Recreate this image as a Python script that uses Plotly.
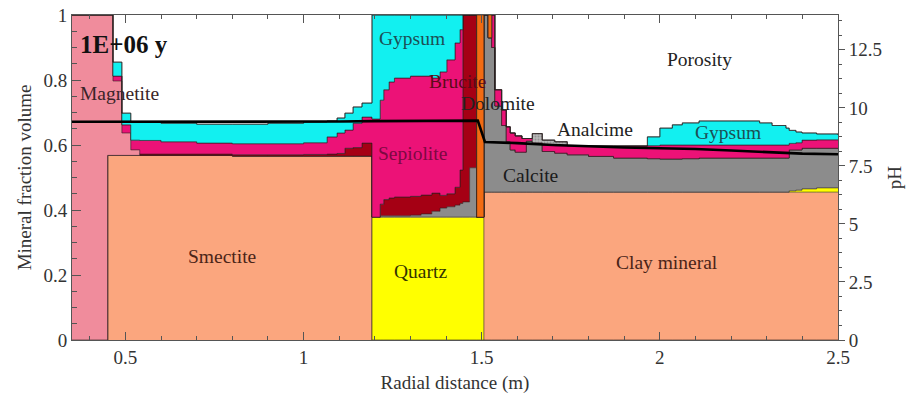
import plotly.graph_objects as go

# Radial positions of the step breakpoints (m); each value holds until the next point
x_grid = [0.35, 0.45, 0.465, 0.49, 0.515, 0.54, 0.60, 0.70, 0.80, 0.90,
          1.00, 1.066, 1.094, 1.116, 1.139, 1.164, 1.192, 1.215, 1.225, 1.24,
          1.255, 1.30, 1.33, 1.36, 1.383, 1.402, 1.425, 1.439, 1.447, 1.466,
          1.486, 1.506, 1.518, 1.528, 1.537, 1.556, 1.569, 1.58, 1.594, 1.613,
          1.625, 1.642, 1.67, 1.705, 1.74, 1.80, 1.87, 1.965, 2.00, 2.035,
          2.063, 2.11, 2.20, 2.28, 2.315, 2.354, 2.363, 2.382, 2.399, 2.44,
          2.50]

# Mineral volume fractions at each breakpoint
smectite = [0, 0.568, 0.568, 0.568, 0.568, 0.568, 0.568, 0.568, 0.566, 0.566,
            0.566, 0.566, 0.566, 0.566, 0.566, 0.566, 0, 0, 0, 0,
            0, 0, 0, 0, 0, 0, 0, 0, 0, 0,
            0, 0, 0, 0, 0, 0, 0, 0, 0, 0,
            0, 0, 0, 0, 0, 0, 0, 0, 0, 0,
            0, 0, 0, 0, 0, 0, 0, 0, 0, 0,
            0]
clay_mineral = [0, 0, 0, 0, 0, 0, 0, 0, 0, 0,
                0, 0, 0, 0, 0, 0, 0, 0, 0, 0,
                0, 0, 0, 0, 0, 0, 0, 0, 0, 0,
                0, 0.455, 0.455, 0.455, 0.455, 0.455, 0.455, 0.455, 0.455, 0.455,
                0.455, 0.455, 0.455, 0.455, 0.455, 0.455, 0.455, 0.455, 0.455, 0.455,
                0.455, 0.455, 0.455, 0.455, 0.455, 0.455, 0.455, 0.455, 0.455, 0.455,
                0.455]
quartz = [0, 0, 0, 0, 0, 0, 0, 0, 0, 0,
          0, 0, 0, 0, 0, 0, 0.378, 0.378, 0.378, 0.378,
          0.378, 0.378, 0.378, 0.378, 0.378, 0.378, 0.378, 0.378, 0.378, 0.378,
          0.378, 0, 0, 0, 0, 0, 0, 0, 0, 0,
          0, 0, 0, 0, 0, 0, 0, 0, 0, 0,
          0, 0, 0, 0, 0, 0, 0.004, 0.006, 0.010, 0.013,
          0.013]
calcite = [0, 0, 0, 0, 0, 0, 0, 0, 0, 0,
           0, 0, 0, 0, 0, 0, 0, 0.004, 0.004, 0.004,
           0.004, 0.006, 0.010, 0.018, 0.028, 0.032, 0.037, 0.042, 0.047, 0.152,
           0, 0.545, 0.475, 0.445, 0.265, 0.205, 0.155, 0.130, 0.123, 0.123,
           0.157, 0.148, 0.125, 0.120, 0.115, 0.110, 0.105, 0.103, 0.102, 0.102,
           0.103, 0.105, 0.105, 0.105, 0.105, 0.105, 0.126, 0.124, 0.125, 0.122,
           0.122]
brucite = [0, 0, 0, 0, 0, 0.004, 0.004, 0.004, 0.004, 0.004,
           0.005, 0.006, 0.008, 0.024, 0.026, 0.040, 0, 0.036, 0.050, 0.055,
           0.058, 0.058, 0.058, 0.056, 0.039, 0.040, 0.055, 0.103, 0.575, 0.470,
           0, 0, 0, 0, 0, 0, 0, 0, 0, 0,
           0, 0, 0, 0, 0, 0, 0, 0, 0, 0,
           0, 0, 0, 0, 0, 0, 0, 0, 0, 0,
           0]
magnetite = [1.0, 0.432, 0.229, 0.069, 0.017, 0, 0, 0, 0, 0,
             0, 0, 0, 0, 0, 0, 0, 0, 0, 0,
             0, 0, 0, 0, 0, 0, 0, 0, 0, 0,
             0, 0, 0, 0, 0, 0, 0, 0, 0, 0,
             0, 0, 0, 0, 0, 0, 0, 0, 0, 0,
             0, 0, 0, 0, 0, 0, 0, 0, 0, 0,
             0]
sepiolite = [0, 0, 0.015, 0.025, 0.030, 0.042, 0.038, 0.034, 0.034, 0.034,
             0.036, 0.053, 0.063, 0.056, 0.075, 0.080, 0.302, 0.320, 0.338, 0.357,
             0.366, 0.370, 0.366, 0.354, 0.380, 0.412, 0.444, 0.432, 0, 0,
             0, 0, 0, 0.100, 0.050, 0.048, 0.046, 0.052, 0.050, 0.042,
             0.008, 0.004, 0.020, 0.023, 0.028, 0.032, 0.037, 0.040, 0.043, 0.043,
             0.042, 0.040, 0.040, 0.040, 0.040, 0.040, 0.020, 0.022, 0.025, 0.026,
             0.026]
analcime = [0, 0, 0, 0, 0, 0, 0, 0, 0, 0,
            0, 0, 0, 0, 0, 0, 0, 0, 0, 0,
            0, 0, 0, 0, 0, 0, 0, 0, 0, 0,
            0, 0, 0, 0, 0, 0, 0, 0, 0, 0,
            0, 0.028, 0.015, 0.012, 0, 0, 0, 0, 0, 0,
            0, 0, 0, 0, 0, 0, 0, 0, 0, 0,
            0]
gypsum = [0, 0, 0.043, 0.036, 0.057, 0.056, 0.057, 0.058, 0.060, 0.063,
          0.064, 0.049, 0.046, 0.052, 0.050, 0.043, 0.320, 0.262, 0.230, 0.206,
          0.194, 0.188, 0.188, 0.194, 0.175, 0.138, 0.086, 0.045, 0, 0,
          0, 0, 0, 0, 0, 0, 0, 0, 0, 0,
          0, 0, 0, 0, 0, 0, 0, 0.027, 0.052, 0.062,
          0.068, 0.074, 0.074, 0.068, 0.060, 0.052, 0.040, 0.033, 0.022, 0.018,
          0.015]
dolomite = [0, 0, 0, 0, 0, 0, 0, 0, 0, 0,
            0, 0, 0, 0, 0, 0, 0, 0, 0, 0,
            0, 0, 0, 0, 0, 0, 0, 0, 0, 0,
            0.622, 0, 0.070, 0, 0, 0, 0, 0, 0, 0,
            0, 0, 0, 0, 0, 0, 0, 0, 0, 0,
            0, 0, 0, 0, 0, 0, 0, 0, 0, 0,
            0]

# pH profile (right axis)
ph_x = [0.35, 0.45, 0.55, 0.70, 0.85, 1.00, 1.10, 1.20, 1.30, 1.40, 1.489,
        1.509, 1.54, 1.60, 1.70, 1.80, 1.90, 2.00, 2.10, 2.20, 2.30, 2.40, 2.50]
ph = [9.40, 9.40, 9.39, 9.38, 9.39, 9.40, 9.41, 9.43, 9.44, 9.45, 9.45,
      8.53, 8.52, 8.48, 8.40, 8.34, 8.29, 8.26, 8.23, 8.16, 8.09, 8.03, 8.00]

# Axis tick labels
x_ticks = [0.5, 1, 1.5, 2, 2.5]
x_tick_text = ["0.5", "1", "1.5", "2", "2.5"]
y_ticks = [0, 0.2, 0.4, 0.6, 0.8, 1]
y_tick_text = ["0", "0.2", "0.4", "0.6", "0.8", "1"]
ph_ticks = [0, 2.5, 5, 7.5, 10, 12.5]
ph_tick_text = ["0", "2.5", "5", "7.5", "10", "12.5"]

layers = [
    ("Smectite", smectite, "#FBA67E"),
    ("Clay mineral", clay_mineral, "#FBA67E"),
    ("Quartz", quartz, "#FFFF00"),
    ("Calcite", calcite, "#8C8C8C"),
    ("Brucite", brucite, "#A50014"),
    ("Magnetite", magnetite, "#F08C9C"),
    ("Sepiolite", sepiolite, "#EC1277"),
    ("Analcime", analcime, "#B8B8B8"),
    ("Gypsum", gypsum, "#12F0F0"),
    ("Dolomite", dolomite, "#F26B12"),
]

fig = go.Figure()
for name, vals, color in layers:
    trace = go.Scatter(
        x=x_grid, y=vals, name=name, stackgroup="minerals",
        mode="lines", line=dict(shape="hv", width=0.8, color="rgba(40,30,30,0.75)"),
        fillcolor=color, showlegend=False,
    )
    if name == "Analcime":
        # speckled fill for analcime
        trace.fillpattern = dict(shape=".", fgcolor="#6E6E6E", bgcolor=color,
                                 size=3, solidity=0.35)
    fig.add_trace(trace)

fig.add_trace(go.Scatter(
    x=ph_x, y=ph, name="pH", yaxis="y2", mode="lines",
    line=dict(color="black", width=2.6), showlegend=False,
))

serif = "Liberation Serif, Times New Roman, serif"
labels = [
    ("Magnetite", 0.482, 0.757, "#3a2428"),
    ("Gypsum", 1.304, 0.929, "#1c4f55"),
    ("Brucite", 1.433, 0.794, "#5c0a18"),
    ("Dolomite", 1.545, 0.729, "#222222"),
    ("Porosity", 2.11, 0.862, "#222222"),
    ("Analcime", 1.818, 0.649, "#222222"),
    ("Gypsum", 2.19, 0.637, "#1c4f55"),
    ("Sepiolite", 1.307, 0.575, "#7e0842"),
    ("Calcite", 1.638, 0.505, "#1a1a1a"),
    ("Smectite", 0.772, 0.258, "#4a2418"),
    ("Quartz", 1.327, 0.212, "#333300"),
    ("Clay mineral", 2.02, 0.24, "#4a2418"),
]
for text, lx, ly, col in labels:
    fig.add_annotation(x=lx, y=ly, text=text, showarrow=False,
                       font=dict(family=serif, size=19.5, color=col))

fig.add_annotation(x=0.497, y=0.908, text="<b>1E+06 y</b>", showarrow=False,
                   font=dict(family=serif, size=25, color="#111111"))

axis_font = dict(family=serif, size=19, color="#333333")
fig.update_layout(
    width=909, height=403,
    margin=dict(l=72, r=71, t=15, b=63, autoexpand=False),
    paper_bgcolor="white", plot_bgcolor="white",
    font=dict(family=serif, color="#333333"),
    xaxis=dict(
        range=[0.35, 2.5], tickvals=x_ticks, ticktext=x_tick_text,
        ticks="inside", ticklen=8, tickcolor="#555555",
        minor=dict(dtick=0.1, tick0=0, ticks="inside", ticklen=4, tickcolor="#555555"),
        showline=True, linecolor="#555555", linewidth=1, mirror="ticks",
        showgrid=False, zeroline=False, tickfont=axis_font, automargin=False,
        title=dict(text="Radial distance (m)", font=axis_font, standoff=8),
    ),
    yaxis=dict(
        range=[0, 1], tickvals=y_ticks, ticktext=y_tick_text,
        ticks="inside", ticklen=9, tickcolor="#555555",
        minor=dict(dtick=0.05, ticks="inside", ticklen=5, tickcolor="#555555"),
        showline=True, linecolor="#555555", linewidth=1,
        showgrid=False, zeroline=False, tickfont=axis_font, automargin=False,
        title=dict(text="Mineral fraction volume", font=axis_font, standoff=6),
    ),
    yaxis2=dict(
        range=[0, 14], overlaying="y", side="right",
        tickvals=ph_ticks, ticktext=ph_tick_text,
        ticks="outside", ticklen=6, tickcolor="#555555",
        minor=dict(dtick=0.625, ticks="outside", ticklen=3, tickcolor="#555555"),
        showline=True, linecolor="#555555", linewidth=1,
        showgrid=False, zeroline=False, tickfont=axis_font, automargin=False,
        title=dict(text="pH", font=axis_font, standoff=6),
    ),
)

fig.write_html("out.html")
